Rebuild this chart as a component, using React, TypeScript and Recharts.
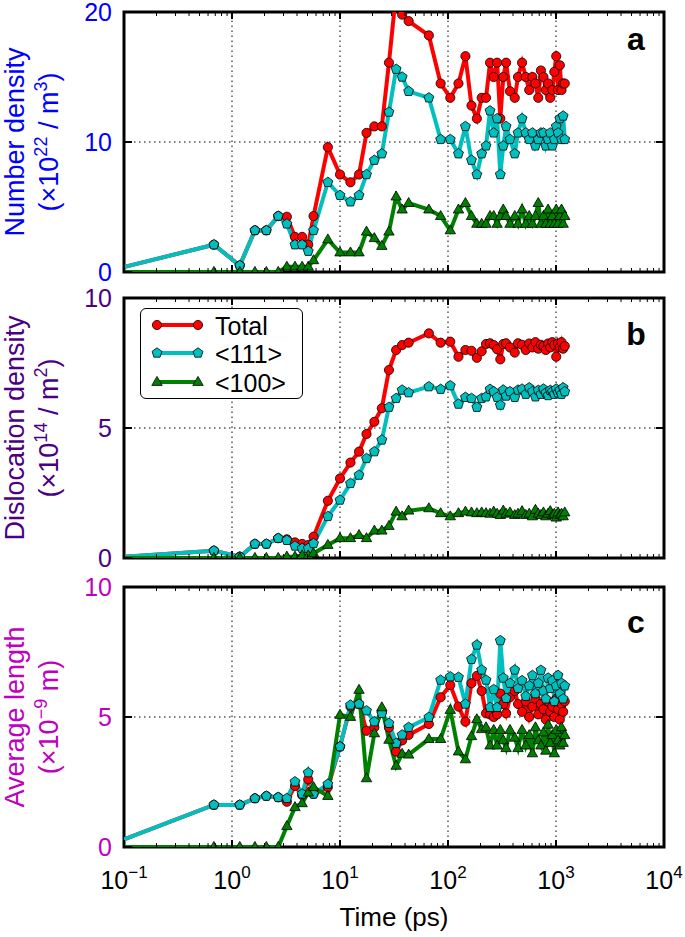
import React from "react";
import { LineChart, Line, XAxis, YAxis, ReferenceLine, ReferenceArea, Legend } from "recharts";

// time points (ps), shared by all three panels
const times = [
  0.065, 0.68, 1.18, 1.63, 2.08, 2.68, 3.22, 3.83, 4.46, 5.08, 5.69, 7.72, 10, 12.5, 15, 17.6, 20.8, 24.4,
  28.4, 33.1, 37.6, 43.2, 66.5, 85.5, 105, 125, 145, 165, 185, 205, 225, 245, 265, 285, 305, 325, 345, 375,
  415, 445, 485, 525, 565, 605, 645, 685, 725, 765, 805, 845, 885, 925, 965, 1005, 1045, 1085, 1125, 1165, 1205,
];

// panel a: number density (x10^22 / m^3)
const totalA = [
  0, 2.1, 0.5, 3.2, 3.2, 4.3, 4.25, 2.7, 2.7, 2.1, 4.3, 9.6, 7.5, 6.9, 7.5, 10.7, 11.2, 11.2, 16.1, 21.5,
  19.8, 19.3, 18.2, 14.5, 13.4, 14.5, 16.6, 12.8, 11.8, 13.4, 13.4, 16.1, 15.0, 16.1, 11.8, 15.0, 16.1, 13.9,
  13.4, 15.0, 16.1, 15.0, 14.0, 15.0, 14.5, 13.4, 15.5, 15.0, 14.0, 14.5, 13.4, 14.0, 15.4, 16.6, 14.0, 15.9,
  14.0, 14.5, 14.5,
];
const d111A = [
  0, 2.1, 0.5, 3.2, 3.2, 4.3, 3.7, 2.1, 2.1, 1.6, 3.2, 6.9, 5.9, 5.4, 5.9, 7.5, 8.6, 9.1, 12.3, 15.6, 15.0,
  13.9, 13.4, 10.2, 10.2, 9.1, 11.2, 8.6, 7.5, 9.1, 9.7, 12.4, 10.7, 11.8, 7.5, 9.7, 11.2, 10.2, 9.1, 10.7,
  11.8, 10.7, 10.2, 10.7, 9.7, 10.2, 10.7, 10.7, 9.7, 10.2, 10.7, 9.7, 10.2, 11.2, 10.7, 11.8, 10.2, 12.0, 10.2,
];
const d100A = [
  0, 0, 0, 0, 0, 0, 0.4, 0.4, 0.4, 0.4, 0.9, 2.5, 1.5, 1.5, 1.5, 3.1, 2.6, 2.0, 3.1, 5.8, 4.8, 5.3, 4.8, 4.3,
  3.2, 4.8, 5.3, 4.3, 3.7, 3.7, 3.7, 4.3, 4.3, 3.7, 4.3, 4.8, 4.3, 3.7, 4.3, 3.7, 4.8, 3.7, 4.3, 3.7, 4.3,
  5.3, 3.7, 4.3, 3.7, 4.8, 3.7, 4.3, 3.7, 4.8, 3.7, 4.3, 4.8, 3.7, 4.3,
];

// panel b: dislocation density (x10^14 / m^2)
const totalB = [
  0, 0.28, 0.05, 0.54, 0.54, 0.76, 0.72, 0.6, 0.54, 0.5, 0.82, 2.2, 3.06, 3.67, 4.09, 4.77, 5.24, 5.76, 7.23,
  8.0, 8.19, 8.28, 8.64, 8.28, 8.32, 7.74, 8.0, 7.97, 7.7, 7.95, 8.23, 8.26, 8.19, 8.03, 7.64, 8.23, 8.26, 8.1,
  7.9, 8.26, 8.2, 8.0, 8.25, 8.1, 8.3, 8.05, 8.2, 8.15, 8.0, 8.25, 8.1, 8.3, 8.2, 7.74, 8.25, 8.1, 8.3, 8.05, 8.15,
];
const d111B = [
  0, 0.28, 0.05, 0.54, 0.54, 0.76, 0.68, 0.46, 0.37, 0.37, 0.56, 1.6, 2.23, 2.87, 3.19, 3.83, 4.09, 4.54, 5.8,
  6.14, 6.46, 6.36, 6.59, 6.49, 6.63, 5.92, 6.18, 6.14, 5.8, 6.14, 6.2, 6.49, 6.4, 6.18, 5.88, 6.46, 6.23, 6.4,
  6.18, 6.46, 6.5, 6.3, 6.55, 6.4, 6.2, 6.45, 6.3, 6.5, 6.35, 6.25, 6.45, 6.4, 6.3, 6.5, 6.35, 6.45, 6.3, 6.55, 6.4,
];
const d100B = [
  0, 0, 0, 0, 0, 0, 0.05, 0.05, 0.1, 0.1, 0.18, 0.5, 0.76, 0.76, 0.88, 0.76, 1.05, 1.05, 1.23, 1.78, 1.6, 1.82,
  1.91, 1.72, 1.6, 1.72, 1.78, 1.75, 1.72, 1.75, 1.72, 1.7, 1.78, 1.7, 1.65, 1.82, 1.7, 1.75, 1.65, 1.7, 1.8,
  1.65, 1.7, 1.6, 1.85, 1.7, 1.65, 1.75, 1.6, 1.7, 1.8, 1.65, 1.7, 1.55, 1.75, 1.65, 1.7, 1.6, 1.75,
];

// panel c: average length (x10^-9 m)
const totalC = [
  0, 1.62, 1.62, 1.87, 1.96, 1.91, 1.74, 2.35, 2.0, 2.6, 2.04, 2.3, 3.86, 5.4, 5.5, 4.47, 4.6, 5.2, 4.6, 3.67,
  4.1, 4.31, 4.73, 5.76, 6.23, 5.4, 4.82, 6.3, 6.58, 6.0, 5.14, 5.1, 5.0, 5.1, 5.9, 5.5, 5.14, 5.76, 6.0, 5.5,
  5.2, 5.6, 5.0, 5.4, 5.7, 5.1, 5.5, 5.3, 4.9, 5.6, 5.2, 5.4, 5.0, 5.7, 5.3, 4.9, 5.5, 5.2, 5.6,
];
const d111C = [
  0, 1.62, 1.62, 1.87, 1.96, 1.91, 1.87, 2.51, 2.04, 2.86, 2.04, 2.42, 3.86, 5.46, 5.5, 5.24, 4.82, 5.14, 4.76,
  3.99, 4.31, 4.6, 4.99, 6.42, 6.55, 6.53, 5.5, 7.22, 7.77, 6.81, 6.42, 5.37, 6.06, 5.37, 7.94, 6.5, 5.72, 6.3,
  6.81, 6.1, 6.4, 5.8, 6.2, 6.6, 5.9, 6.3, 6.8, 6.0, 5.7, 6.5, 6.1, 6.4, 5.6, 6.2, 6.6, 5.9, 6.3, 5.7, 6.2,
];
const d100C = [
  0, 0, 0, 0, 0, 0, 0.8, 1.53, 1.68, 2.09, 2.3, 1.96, 5.08, 5.0, 6.04, 2.64, 4.37, 5.37, 4.12, 3.12, 3.58,
  3.55, 4.15, 4.15, 5.27, 3.67, 3.37, 4.26, 4.91, 4.53, 4.6, 3.9, 4.5, 3.9, 4.5, 4.1, 3.8, 4.5, 4.2, 3.8, 4.5,
  3.9, 4.3, 3.6, 4.6, 4.1, 3.9, 4.4, 3.7, 4.7, 4.0, 4.3, 3.6, 4.5, 4.1, 3.9, 4.6, 4.0, 4.3,
];

const seriesNames = ["Total", "<111>", "<100>"];
const decades = [0.1, 1, 10, 100, 1000, 10000];
const gridX = [1, 10, 100, 1000];

const RED = "#ff0000";
const CYAN = "#00bfbf";
const GREEN = "#008000";
const FONT = "'Liberation Sans', Arial, Helvetica, sans-serif";
const PLOT_L = 124;
const PLOT_R = 664;

// major + minor log ticks
const xTicks: number[] = [];
decades.forEach((d, i) => {
  xTicks.push(d);
  if (i < decades.length - 1) for (let m = 2; m <= 9; m++) xTicks.push(+(d * m).toPrecision(3));
});

function pentPoints(cx: number, cy: number, r: number) {
  const pts = [];
  for (let k = 0; k < 5; k++) {
    const a = ((-90 + 72 * k) * Math.PI) / 180;
    pts.push(`${cx + r * Math.cos(a)},${cy + r * Math.sin(a)}`);
  }
  return pts.join(" ");
}

function triPoints(cx: number, cy: number) {
  return `${cx},${cy - 5.6} ${cx - 5.2},${cy + 3.4} ${cx + 5.2},${cy + 3.4}`;
}

const markers = [
  (x: number, y: number, k?: any) => <circle key={k} cx={x} cy={y} r={4.6} fill={RED} stroke="#000" strokeWidth={0.8} />,
  (x: number, y: number, k?: any) => (
    <polygon key={k} points={pentPoints(x, y, 5.2)} fill={CYAN} stroke="#000" strokeWidth={0.8} />
  ),
  (x: number, y: number, k?: any) => (
    <polygon key={k} points={triPoints(x, y)} fill={GREEN} stroke="#000" strokeWidth={0.8} />
  ),
];

function makeDot(i: number) {
  return (p: any) => {
    if (p.cx == null || p.cy == null) return <g key={p.index} />;
    return markers[i](p.cx, p.cy, p.index);
  };
}

function XTick(props: any) {
  const { x, payload, top, bottom, showLabel } = props;
  const e = Math.log10(payload.value);
  const r = Math.round(e);
  const major = Math.abs(e - r) < 1e-6;
  const len = major ? 7 : 4;
  const w = major ? 2 : 1;
  return (
    <g>
      <line x1={x} x2={x} y1={bottom} y2={bottom - len} stroke="#000" strokeWidth={w} />
      <line x1={x} x2={x} y1={top} y2={top + len} stroke="#000" strokeWidth={w} />
      {showLabel && major && (
        <text x={x} y={bottom + 42} textAnchor="middle" fontSize={25} fontFamily={FONT} fill="#000">
          10
          <tspan dy={-11} fontSize={17}>
            {r < 0 ? "\u2212" + Math.abs(r) : String(r)}
          </tspan>
        </text>
      )}
    </g>
  );
}

function YTick(props: any) {
  const { y, payload, color } = props;
  return (
    <g>
      <line x1={PLOT_L} x2={PLOT_L + 8} y1={y} y2={y} stroke="#000" strokeWidth={2} />
      <line x1={PLOT_R} x2={PLOT_R - 8} y1={y} y2={y} stroke="#000" strokeWidth={2} />
      <text x={112} y={y} dy="0.36em" textAnchor="end" fontSize={25} fontFamily={FONT} fill={color}>
        {payload.value}
      </text>
    </g>
  );
}

function PanelText(props: any) {
  const { top, bottom, color, line1, line2, letter, letterY, xTitle } = props;
  const cy = (top + bottom) / 2;
  return (
    <g fontFamily={FONT}>
      <text x={24} y={cy} transform={`rotate(-90 24 ${cy})`} textAnchor="middle" fontSize={27} fill={color}>
        {line1}
      </text>
      <text x={58} y={cy} transform={`rotate(-90 58 ${cy})`} textAnchor="middle" fontSize={27} fill={color}>
        {line2}
      </text>
      <text x={636} y={letterY} textAnchor="middle" fontSize={32} fontWeight="bold" fill="#000">
        {letter}
      </text>
      {xTitle && (
        <text x={(PLOT_L + PLOT_R) / 2} y={bottom + 79} textAnchor="middle" fontSize={26} fill="#000">
          {xTitle}
        </text>
      )}
    </g>
  );
}

function LegendBox(props: any) {
  const payload = props.payload || [];
  const rows = [17, 45, 74];
  return (
    <div
      style={{
        width: 163,
        height: 91,
        boxSizing: "border-box",
        border: "1.2px solid #000",
        borderRadius: 6,
        background: "#fff",
      }}
    >
      <svg width={161} height={89} style={{ display: "block" }}>
        {seriesNames.map((name, i) => {
          const entry = payload.find((e: any) => e.value === name);
          const color = entry ? entry.color : "#000";
          const y = rows[i] - 1;
          return (
            <g key={name}>
              <line x1={16} x2={57} y1={y} y2={y} stroke={color} strokeWidth={4} />
              {markers[i](16, y)}
              {markers[i](57, y)}
              <text x={74} y={rows[i]} dy="0.36em" fontSize={25} fontFamily={FONT} fill="#000">
                {name}
              </text>
            </g>
          );
        })}
      </svg>
    </div>
  );
}

type PanelProps = {
  pageTop: number;
  height: number;
  marginTop: number;
  xHeight: number;
  yMax: number;
  yTicks: number[];
  total: number[];
  s111: number[];
  s100: number[];
  color: string;
  line1: React.ReactNode;
  line2: React.ReactNode;
  letter: string;
  letterY: number;
  showX?: boolean;
  legend?: boolean;
};

function Panel(p: PanelProps) {
  const data = times.map((t, i) => ({ t, total: p.total[i], s111: p.s111[i], s100: p.s100[i] }));
  const top = p.marginTop;
  const bottom = p.height - p.xHeight;
  return (
    <div style={{ position: "absolute", left: 0, top: p.pageTop, width: 685, height: p.height }}>
      <LineChart
        width={685}
        height={p.height}
        data={data}
        margin={{ top: p.marginTop, right: 685 - PLOT_R, bottom: 0, left: 0 }}
      >
        <XAxis
          dataKey="t"
          type="number"
          scale="log"
          domain={[0.1, 10000]}
          allowDataOverflow
          ticks={xTicks}
          interval={0}
          height={p.xHeight}
          axisLine={false}
          tickLine={false}
          tick={<XTick top={top} bottom={bottom} showLabel={!!p.showX} />}
        />
        <YAxis
          type="number"
          domain={[0, p.yMax]}
          allowDataOverflow
          ticks={p.yTicks}
          interval={0}
          width={PLOT_L}
          axisLine={false}
          tickLine={false}
          tick={<YTick color={p.color} />}
          label={
            <PanelText
              top={top}
              bottom={bottom}
              color={p.color}
              line1={p.line1}
              line2={p.line2}
              letter={p.letter}
              letterY={p.letterY - p.pageTop}
              xTitle={p.showX ? "Time (ps)" : undefined}
            />
          }
        />
        {gridX.map((g) => (
          <ReferenceLine key={g} x={g} stroke="#000" strokeWidth={1} strokeDasharray="1.5 3.5" />
        ))}
        <ReferenceLine y={p.yTicks[1]} stroke="#000" strokeWidth={1} strokeDasharray="1.5 3.5" />
        <Line dataKey="total" name={seriesNames[0]} stroke={RED} strokeWidth={4} dot={makeDot(0)} isAnimationActive={false} />
        <Line dataKey="s111" name={seriesNames[1]} stroke={CYAN} strokeWidth={4} dot={makeDot(1)} isAnimationActive={false} />
        <Line dataKey="s100" name={seriesNames[2]} stroke={GREEN} strokeWidth={4} dot={makeDot(2)} isAnimationActive={false} />
        <ReferenceArea x1={0.1} x2={10000} y1={0} y2={p.yMax} fill="none" stroke="#000" strokeWidth={3} />
        {p.legend && (
          <Legend
            layout="horizontal"
            verticalAlign="middle"
            align="center"
            content={<LegendBox />}
            wrapperStyle={{ left: 140, top: 28, width: 163, height: 91 }}
          />
        )}
      </LineChart>
    </div>
  );
}

export default function App() {
  return (
    <div style={{ position: "absolute", left: 0, top: 0, width: 685, height: 937, background: "#fff" }}>
      <Panel
        pageTop={0}
        height={290}
        marginTop={12}
        xHeight={18}
        yMax={20}
        yTicks={[0, 10, 20]}
        total={totalA}
        s111={d111A}
        s100={d100A}
        color="#0000ff"
        line1="Number density"
        line2={
          <>
            (×10<tspan dy={-11} fontSize={18}>22</tspan>
            <tspan dy={11}> / m</tspan>
            <tspan dy={-11} fontSize={18}>3</tspan>
            <tspan dy={11}>)</tspan>
          </>
        }
        letter="a"
        letterY={50}
      />
      <Panel
        pageTop={280}
        height={300}
        marginTop={18}
        xHeight={22}
        yMax={10}
        yTicks={[0, 5, 10]}
        total={totalB}
        s111={d111B}
        s100={d100B}
        color="#4b0082"
        line1="Dislocation density"
        line2={
          <>
            (×10<tspan dy={-11} fontSize={18}>14</tspan>
            <tspan dy={11}> / m</tspan>
            <tspan dy={-11} fontSize={18}>2</tspan>
            <tspan dy={11}>)</tspan>
          </>
        }
        letter="b"
        letterY={345}
        legend
      />
      <Panel
        pageTop={570}
        height={367}
        marginTop={17}
        xHeight={90}
        yMax={10}
        yTicks={[0, 5, 10]}
        total={totalC}
        s111={d111C}
        s100={d100C}
        color="#bf00bf"
        line1="Average length"
        line2={
          <>
            (×10<tspan dy={-11} fontSize={18}>{"\u22129"}</tspan>
            <tspan dy={11}> m)</tspan>
          </>
        }
        letter="c"
        letterY={633}
        showX
      />
    </div>
  );
}
